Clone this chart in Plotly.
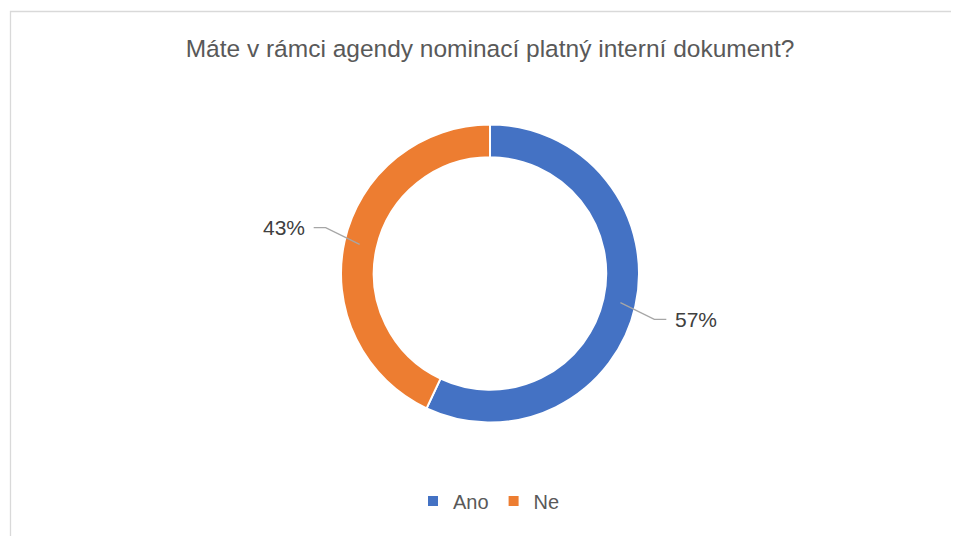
import math
import plotly.graph_objects as go

categories = ["Ano", "Ne"]
values = [57, 43]
colors = ["#4472C4", "#ED7D31"]
title_text = "Máte v rámci agendy nominací platný interní dokument?"

# page body has an 8px margin; target coordinates are in window pixels
OFF = 8
W, H = 959 - OFF, 536 - OFF
cx, cy, R = 490, 273.5, 149
hole = 0.78

def px(x):
    return (x - OFF) / W

def py(y):
    return 1 - (y - OFF) / H

fig = go.Figure()
fig.add_trace(go.Pie(
    labels=categories, values=values, sort=False, direction="clockwise", rotation=0,
    hole=hole, marker=dict(colors=colors, line=dict(color="white", width=2)),
    textinfo="none", hoverinfo="label+percent",
    domain=dict(x=[px(cx - R), px(cx + R)], y=[py(cy + R), py(cy - R)]),
))

shapes = [dict(type="rect", xref="paper", yref="paper", x0=px(10.5), x1=px(970),
               y0=py(545), y1=py(11.5), line=dict(color="#D9D9D9", width=1.3),
               fillcolor="rgba(0,0,0,0)", layer="below")]
annotations = []
total = sum(values)
cum = 0
for cat, v in zip(categories, values):
    mid = (cum + v / 2) / total * 2 * math.pi
    cum += v
    s, c = math.sin(mid), math.cos(mid)
    r0 = R * (1 + hole) / 2 + 1
    x0, y0 = cx + r0 * s, cy - r0 * c
    re = R * 1.13
    x1, y1 = cx + re * s, cy - re * c * 1.25
    side = 1 if s >= 0 else -1
    x2 = x1 + side * 12
    shapes.append(dict(type="path", xref="paper", yref="paper",
                       path=f"M {px(x0)},{py(y0)} L {px(x1)},{py(y1)} L {px(x2)},{py(y1)}",
                       line=dict(color="#A6A6A6", width=1.3)))
    pct = round(v / total * 100)
    annotations.append(dict(x=px(x2 + side * 7), y=py(y1), xref="paper", yref="paper",
                            text=f"{pct}%", showarrow=False,
                            xanchor="left" if side > 0 else "right", yanchor="middle",
                            font=dict(size=21, color="#404040", family="Liberation Sans")))

fig.update_layout(
    width=W, height=H, margin=dict(l=0, r=0, t=0, b=0),
    paper_bgcolor="white", plot_bgcolor="white",
    title=dict(text=title_text, x=px(cx), xanchor="center", y=py(48), yanchor="middle",
               font=dict(size=24.5, color="#595959", family="Liberation Sans")),
    showlegend=True,
    legend=dict(orientation="h", x=px(489), xanchor="center", y=py(501), yanchor="middle",
                font=dict(size=20, color="#595959", family="Liberation Sans"),
                itemwidth=30, traceorder="normal"),
    shapes=shapes, annotations=annotations,
)
fig.write_html("out.html")
